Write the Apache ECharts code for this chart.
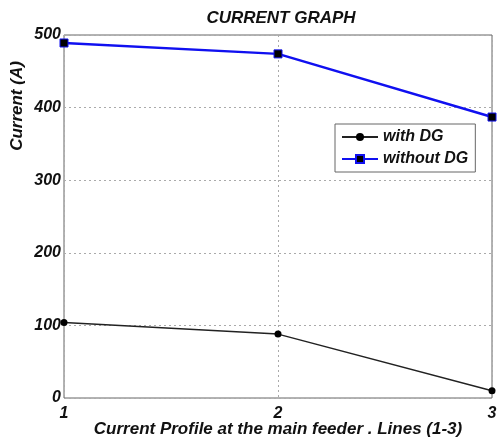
<!DOCTYPE html>
<html>
<head>
<meta charset="utf-8">
<script src="https://cdn.jsdelivr.net/npm/echarts@6/dist/echarts.min.js"></script>
<style>
  html, body { margin: 0; padding: 0; background: #fff; }
  #chart { width: 498px; height: 442px; }
</style>
</head>
<body>
<div id="chart"></div>
<script>
// data
const lines = [1, 2, 3];
const withDG = [104, 88, 10];
const withoutDG = [489, 474, 387];

const font = 'Liberation Sans, Arial, sans-serif';
const chart = echarts.init(document.getElementById('chart'));

const labelStyle = { color: '#111', fontFamily: font, fontWeight: 'bold', fontStyle: 'italic', fontSize: 16 };
const nameStyle = Object.assign({}, labelStyle, { fontSize: 17 });

chart.setOption({
  animation: false,
  title: {
    text: 'CURRENT GRAPH',
    left: 276, top: 5, textAlign: 'center',
    textStyle: { color: '#111', fontFamily: font, fontWeight: 'bold', fontStyle: 'italic', fontSize: 17 }
  },
  grid: {
    left: 64, right: 6, top: 35, bottom: 44,
    outerBoundsMode: 'none', containLabel: false,
    show: true, borderColor: '#666', borderWidth: 1
  },
  legend: {
    left: 335, top: 124, orient: 'vertical',
    itemWidth: 36, itemHeight: 10, itemGap: 6,
    padding: [5, 7, 5, 6],
    borderColor: '#666', borderWidth: 1, backgroundColor: '#fff',
    textStyle: labelStyle,
    data: ['with DG', 'without DG']
  },
  graphic: [{
    type: 'text', x: 17, y: 106, rotation: Math.PI / 2,
    style: { text: 'Current (A)', align: 'center', verticalAlign: 'middle', fill: '#111',
      font: 'italic bold 17px ' + font }
  }],
  xAxis: {
    type: 'value', min: 1, max: 3, interval: 1,
    name: 'Current Profile at the main feeder . Lines (1-3)',
    nameLocation: 'middle', nameGap: 23, nameMoveOverlap: false,
    nameTextStyle: nameStyle,
    axisLine: { show: false },
    axisTick: { show: false },
    axisLabel: Object.assign({ margin: 8 }, labelStyle),
    splitLine: { show: true, lineStyle: { color: '#aaa', type: [2, 3], width: 1 } }
  },
  yAxis: {
    type: 'value', min: 0, max: 500, interval: 100,
    axisLine: { show: false },
    axisTick: { show: false },
    axisLabel: Object.assign({ margin: 3 }, labelStyle),
    splitLine: { show: true, lineStyle: { color: '#aaa', type: [2, 3], width: 1 } }
  },
  series: [
    {
      name: 'with DG', type: 'line',
      data: lines.map((x, i) => [x, withDG[i]]),
      symbol: 'circle', symbolSize: 7,
      lineStyle: { color: '#222', width: 1.5 },
      itemStyle: { color: '#000' }
    },
    {
      name: 'without DG', type: 'line',
      data: lines.map((x, i) => [x, withoutDG[i]]),
      symbol: 'rect', symbolSize: 8,
      lineStyle: { color: '#1010f0', width: 2.5 },
      itemStyle: { color: '#000', borderColor: '#1010f0', borderWidth: 1 }
    }
  ]
});
</script>
</body>
</html>
